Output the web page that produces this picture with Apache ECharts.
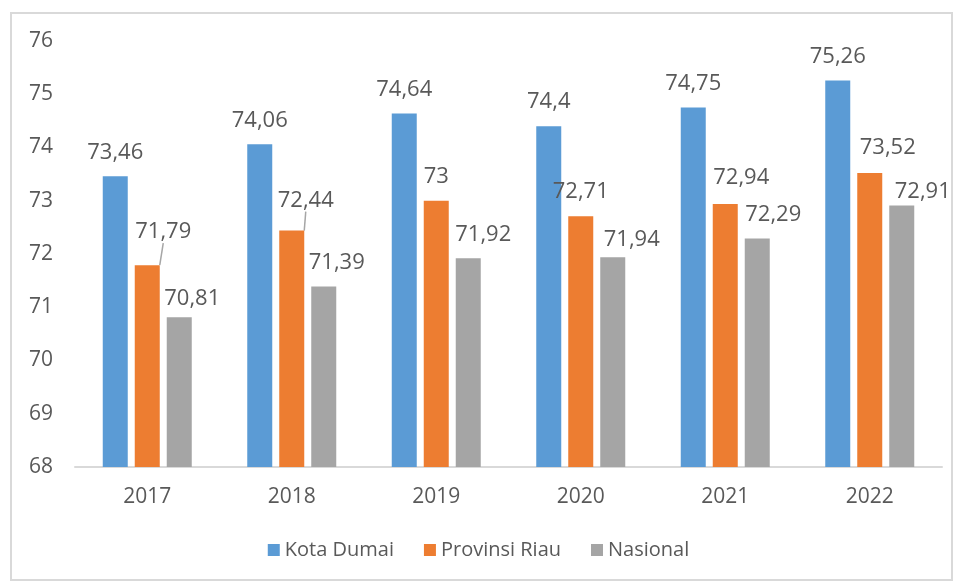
<!DOCTYPE html>
<html>
<head>
<meta charset="utf-8">
<script src="https://cdn.jsdelivr.net/npm/echarts@6/dist/echarts.min.js"></script>
<style>
  html, body { margin: 0; padding: 0; background: #fff; }
  .wrap { position: relative; width: 957px; height: 581px; }
  #chart { width: 957px; height: 581px; }
  .frame {
    position: absolute; left: 10px; top: 12px; width: 939px; height: 565px;
    border: 2px solid #d9d9d9; pointer-events: none;
  }
</style>
</head>
<body>
<div class="wrap">
  <div id="chart"></div>
  <div class="frame"></div>
</div>
<script>
// data
const years = ['2017', '2018', '2019', '2020', '2021', '2022']
const kotaDumai = [73.46, 74.06, 74.64, 74.4, 74.75, 75.26]
const provinsiRiau = [71.79, 72.44, 73, 72.71, 72.94, 73.52]
const nasional = [70.81, 71.39, 71.92, 71.94, 72.29, 72.91]
const yTicks = [68, 69, 70, 71, 72, 73, 74, 75, 76]

const textColor = '#595959'
const fontFamily = '"Open Sans", sans-serif'

const fmt = (v) => String(v).replace('.', ',')

// label nudges like in the excel original (seriesIndex -> per year [dx, dy])
const nudges = {
  1: [[16, -9], [14, -6], [0, 0], [0, 0], [16, -2], [18, -1]],
  2: [[13, 5], [13, 0], [15, 0], [19, 7], [16, 0], [21, 10]],
}
// leader lines only where the label was pulled away
const leaderLines = { 1: [0, 1] }

const makeSeries = (name, values, color, idx) => ({
  name,
  type: 'bar',
  data: values.map((v, i) => {
    const withLine = (leaderLines[idx] || []).includes(i)
    return withLine ? { value: v, labelLine: { show: true } } : v
  }),
  barWidth: 25,
  barGap: '28%',
  itemStyle: { color },
  label: {
    show: true,
    position: 'top',
    distance: 13,
    color: textColor,
    fontSize: 22,
    fontFamily,
    formatter: (p) => fmt(p.value),
  },
  labelLine: {
    show: false,
    lineStyle: { color: '#a6a6a6', width: 1.5 },
  },
  labelLayout: (params) => {
    const n = nudges[idx] && nudges[idx][params.dataIndex]
    if (!n) return {}
    return { dx: n[0], dy: n[1] }
  },
})

const chart = echarts.init(document.getElementById('chart'))
chart.setOption({
  animation: false,
  textStyle: { fontFamily },
  grid: { left: 75, right: 15, top: 41, bottom: 114 },
  legend: {
    bottom: 16,
    left: 'center',
    itemWidth: 12,
    itemHeight: 12,
    itemGap: 30,
    icon: 'rect',
    textStyle: { color: textColor, fontSize: 20, fontFamily },
    data: ['Kota Dumai', 'Provinsi Riau', 'Nasional'],
  },
  xAxis: {
    type: 'category',
    data: years,
    axisLine: { lineStyle: { color: '#d9d9d9', width: 2 } },
    axisTick: { show: false },
    axisLabel: { color: textColor, fontSize: 21, fontFamily, margin: 20 },
  },
  yAxis: {
    type: 'value',
    min: yTicks[0],
    max: yTicks[yTicks.length - 1],
    interval: 1,
    axisLine: { show: false },
    axisTick: { show: false },
    splitLine: { show: false },
    axisLabel: { color: textColor, fontSize: 21, fontFamily, margin: 22 },
  },
  series: [
    makeSeries('Kota Dumai', kotaDumai, '#5b9bd5', 0),
    makeSeries('Provinsi Riau', provinsiRiau, '#ed7d31', 1),
    makeSeries('Nasional', nasional, '#a5a5a5', 2),
  ],
})
</script>
</body>
</html>
